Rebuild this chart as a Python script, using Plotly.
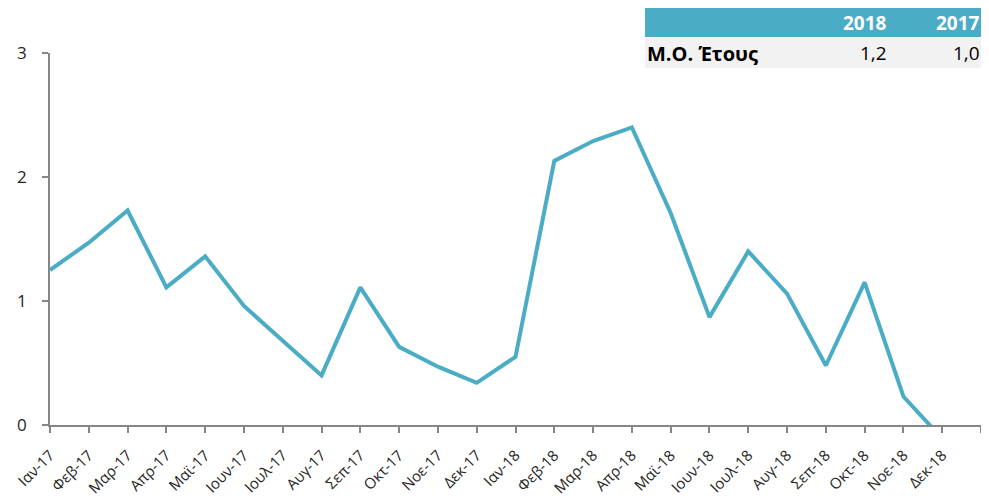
import plotly.graph_objects as go

months = ["Ιαν-17", "Φεβ-17", "Μαρ-17", "Απρ-17", "Μαϊ-17", "Ιουν-17", "Ιουλ-17", "Αυγ-17",
          "Σεπ-17", "Οκτ-17", "Νοε-17", "Δεκ-17", "Ιαν-18", "Φεβ-18", "Μαρ-18", "Απρ-18",
          "Μαϊ-18", "Ιουν-18", "Ιουλ-18", "Αυγ-18", "Σεπ-18", "Οκτ-18", "Νοε-18", "Δεκ-18"]
values = [1.25, 1.47, 1.73, 1.11, 1.36, 0.96, 0.68, 0.40, 1.11, 0.63, 0.47, 0.34,
          0.55, 2.13, 2.29, 2.40, 1.71, 0.87, 1.40, 1.06, 0.48, 1.15, 0.23, -0.11]
y_ticks = [0, 1, 2, 3]
table_header = ["", "2018", "2017"]
table_row_label = "Μ.Ο. Έτους"
table_values = ["1,2", "1,0"]

# page body has an 8px margin: work in figure coordinates = screen - 8
OFF = 8
W, H = 989 - OFF, 496 - OFF
L = 50 - OFF
T = 53 - OFF
R = W - (981 - OFF)
B = H - (425 - OFF)
PW, PH = W - L - R, H - T - B

def px(x):
    # x given in screen pixels
    return (x - OFF - L) / PW

def py(y):
    return (H - B - (y - OFF)) / PH

LINE = "#4BACC6"
AX = "#868686"
TXT = "#262626"
FONT = "Open Sans"

x_idx = list(range(len(months)))
fig = go.Figure()
fig.add_trace(go.Scatter(x=x_idx, y=values, mode="lines",
                         line=dict(color=LINE, width=4), hoverinfo="skip",
                         showlegend=False))

fig.update_layout(
    width=W, height=H,
    margin=dict(l=L, r=R, t=T, b=B, autoexpand=False),
    plot_bgcolor="white", paper_bgcolor="white",
    font=dict(family=FONT, color=TXT),
    xaxis=dict(range=[0, len(months)], tickmode="array",
               tickvals=list(range(len(months) + 1)), ticktext=months + [""],
               tickangle=-45, showgrid=False, zeroline=False,
               showline=True, linecolor=AX, linewidth=1.5,
               ticks="outside", ticklen=6, tickcolor=AX, tickwidth=1.5,
               ticklabelstandoff=8,
               tickfont=dict(size=15, color=TXT, family=FONT)),
    yaxis=dict(range=[0, 3], tickmode="array", tickvals=y_ticks,
               showgrid=False, zeroline=False,
               showline=True, linecolor=AX, linewidth=1.5,
               ticks="outside", ticklen=6, tickcolor=AX, tickwidth=1.5,
               ticklabelstandoff=12,
               tickfont=dict(size=17, color=TXT, family=FONT)),
)

# summary table (top right)
shapes = [
    dict(type="rect", xref="paper", yref="paper", x0=px(645), x1=px(995), y0=py(37), y1=py(8),
         fillcolor="#4BACC6", line=dict(width=0), layer="above"),
    dict(type="rect", xref="paper", yref="paper", x0=px(645), x1=px(995), y0=py(68), y1=py(38),
         fillcolor="#F2F2F2", line=dict(width=0), layer="above"),
]
fig.update_layout(shapes=shapes)

col_right = [889, 982]
for i, h in enumerate(table_header[1:]):
    fig.add_annotation(xref="paper", yref="paper", x=px(col_right[i]), y=py(23),
                       text="<b>%s</b>" % h, showarrow=False, xanchor="right", yanchor="middle",
                       font=dict(size=19, color="white", family=FONT))
    fig.add_annotation(xref="paper", yref="paper", x=px(col_right[i]), y=py(53),
                       text=table_values[i], showarrow=False, xanchor="right", yanchor="middle",
                       font=dict(size=19, color="black", family=FONT))
fig.add_annotation(xref="paper", yref="paper", x=px(645), y=py(53),
                   text="<b>%s</b>" % table_row_label, showarrow=False, xanchor="left",
                   yanchor="middle", font=dict(size=20, color="black", family=FONT))

fig.write_html("out.html")
